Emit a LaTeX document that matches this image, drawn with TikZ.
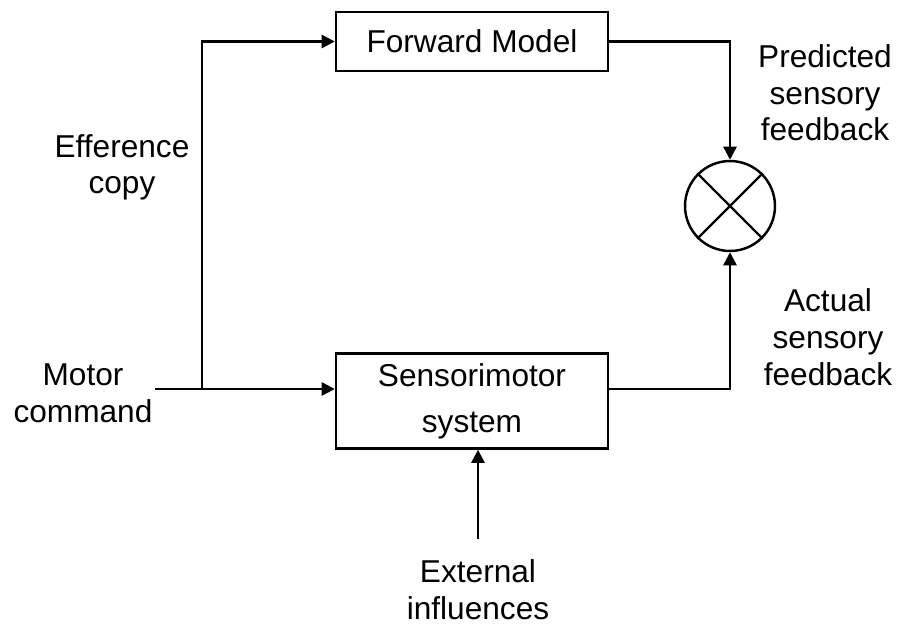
\documentclass[tikz,border=0pt]{standalone}
\usepackage{fontspec}
\setmainfont{Liberation Sans}
\usetikzlibrary{arrows.meta}

\begin{document}
\begin{tikzpicture}[x=0.02cm, y=-0.02cm, line width=1.4pt,
  >={Triangle[length=7.5pt,width=7.5pt]},
  box/.style={draw, line width=1.4pt, inner sep=0pt, minimum width=5.44cm, align=center,
    font=\fontsize{18}{26}\selectfont},
  lbl/.style={align=center, font=\fontsize{18}{21}\selectfont}]
\useasboundingbox (0,0) rectangle (897,625);

% blocks
\node[box, minimum height=1.18cm] (fwd) at (472,41.5) {Forward Model};
\node[box, minimum height=1.9cm] (sms) at (472,401) {Sensorimotor\\system};
\node[draw, circle, inner sep=0pt, minimum size=1.8cm] (cmp) at (730,206) {};
\draw (cmp.45) -- (cmp.225);
\draw (cmp.135) -- (cmp.-45);

% free ends
\coordinate (mc) at (155,389); % motor command in
\coordinate (split) at (202,389); % branch point
\coordinate (ext) at (478,539); % external influences in

% connectors
\draw[->] (mc) -- (mc -| sms.west);
\draw[->] (split) |- (fwd.west);
\draw[->] (fwd.east) -| (cmp.north);
\draw[->] (sms.east |- mc) -| (cmp.south);
\draw[->] (ext) -- (ext |- sms.south);

% labels (anchored at baseline of last line)
\node[lbl, anchor=base] (pred) at (825,141) {Predicted\\sensory\\feedback};
\node[lbl, anchor=base] (act) at (828,385) {Actual\\sensory\\feedback};
\node[lbl, anchor=base] (eff) at (122,194) {Efference\\copy};
\node[lbl, anchor=base] (mot) at (83,422) {Motor\\command};
\node[lbl, anchor=base] (exl) at (478,619) {External\\influences};
\end{tikzpicture}
\end{document}
